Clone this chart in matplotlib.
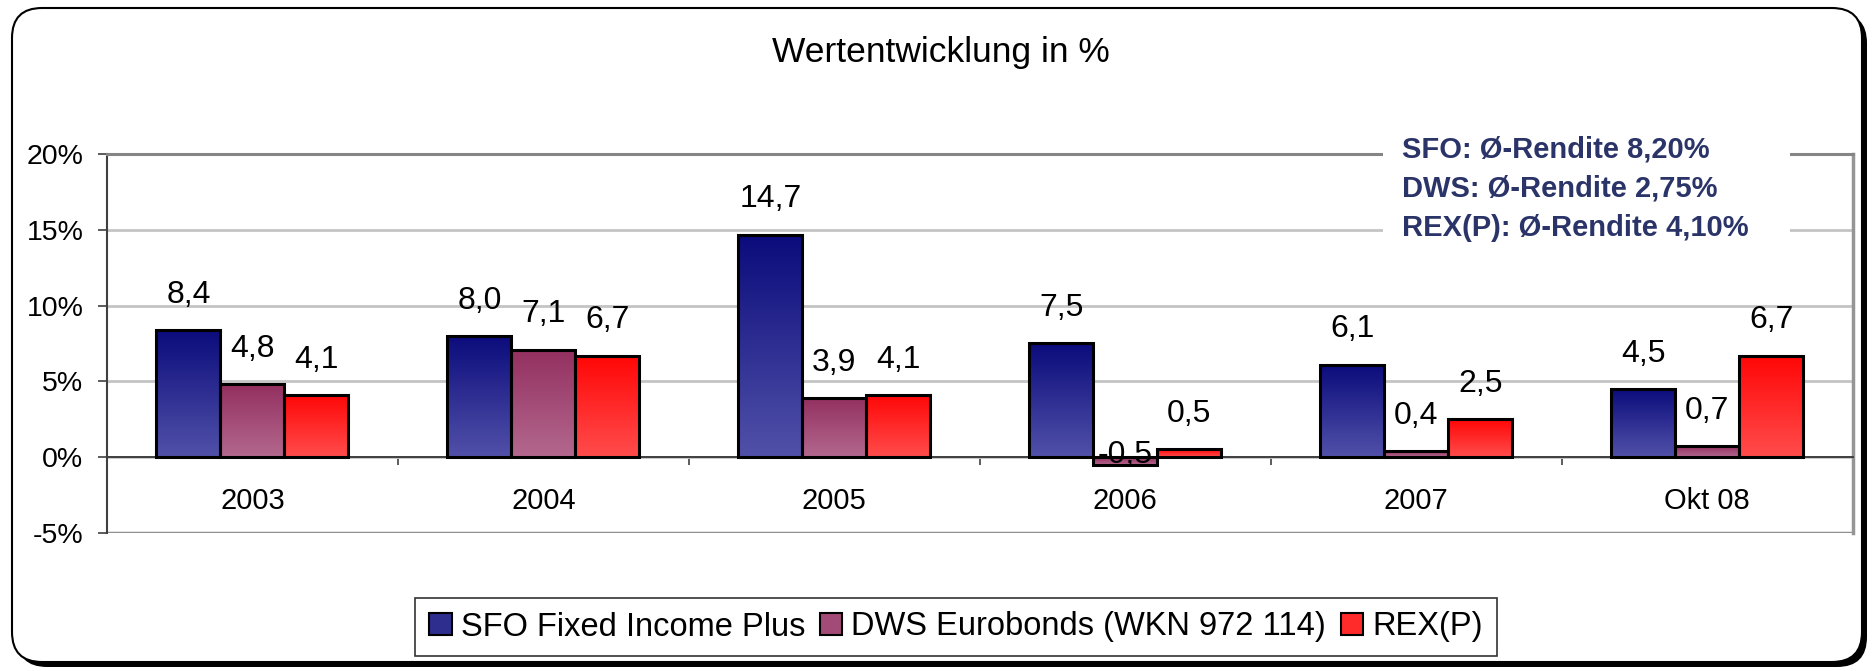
import numpy as np
import matplotlib

matplotlib.use("Agg")
import matplotlib.pyplot as plt
from matplotlib.colors import LinearSegmentedColormap
from matplotlib.patches import FancyBboxPatch, Patch, Rectangle
from matplotlib.ticker import FuncFormatter

plt.rcParams["font.family"] = ["Liberation Sans", "DejaVu Sans"]

# Daten (Wertentwicklung in %)
categories = ["2003", "2004", "2005", "2006", "2007", "Okt 08"]
sfo = [8.4, 8.0, 14.7, 7.5, 6.1, 4.5]
dws = [4.8, 7.1, 3.9, -0.5, 0.4, 0.7]
rex = [4.1, 6.7, 4.1, 0.5, 2.5, 6.7]
series_names = ["SFO Fixed Income Plus", "DWS Eurobonds (WKN 972 114)", "REX(P)"]
avg_notes = ["SFO: Ø-Rendite 8,20%", "DWS: Ø-Rendite 2,75%", "REX(P): Ø-Rendite 4,10%"]
y_ticks = [-5, 0, 5, 10, 15, 20]

# Verlauf oben -> unten, Mittelfarbe fuer Legende
gradients = [("#0b0b7c", "#5151a9"), ("#933060", "#b3688e"), ("#ff0606", "#ff4c4c")]
legend_colors = ["#2e2e8f", "#a24b78", "#ff2a2a"]
note_color = "#2b3468"

W, H, DPI = 1872, 671, 100
fig = plt.figure(figsize=(W / DPI, H / DPI), dpi=DPI)

# abgerundeter Rahmen mit Schatten
box = dict(boxstyle="round,pad=0,rounding_size=0.3", transform=fig.dpi_scale_trans)
fig.patches.append(FancyBboxPatch((0.17, 0.04), 18.5, 6.54, fc="black", ec="none", zorder=-3, **box))
fig.patches.append(FancyBboxPatch((0.12, 0.09), 18.5, 6.54, fc="white", ec="black", lw=1.5, zorder=-2, **box))

ax = fig.add_axes([107 / W, 1 - 532.7 / H, (1852.6 - 107) / W, (532.7 - 154.3) / H])
ax.set_facecolor("none")

x = np.arange(len(categories))
width = 0.22
grad = np.linspace(0, 1, 128).reshape(-1, 1)

for i, (vals, (c_top, c_bot)) in enumerate(zip([sfo, dws, rex], gradients)):
    bars = ax.bar(x + (i - 1) * width, vals, width, facecolor="none",
                  edgecolor="black", linewidth=2.2, zorder=4)
    cmap = LinearSegmentedColormap.from_list(f"g{i}", [c_top, c_bot])
    for b, v in zip(bars, vals):
        x0, y0, h = b.get_x(), b.get_y(), b.get_height()
        ax.imshow(grad, cmap=cmap, origin="upper", aspect="auto", zorder=3,
                  interpolation="bilinear",
                  extent=(x0, x0 + b.get_width(), min(y0, y0 + h), max(y0, y0 + h)))
        off = 19.7 if v >= 0 else 1
        ax.annotate(f"{v:.1f}".replace(".", ","), (x0 + b.get_width() / 2, v),
                    xytext=(0, off), textcoords="offset points", ha="center",
                    va="baseline", fontsize=23, zorder=5)

ax.set_xlim(-0.5, len(categories) - 0.5)
ax.set_ylim(-5, 20)

ax.set_yticks(y_ticks)
ax.yaxis.set_major_formatter(FuncFormatter(lambda v, _: f"{v:.0f}%"))
ax.yaxis.grid(True, color="#c4c4c4", linewidth=2)
ax.set_axisbelow(True)
ax.tick_params(axis="y", length=6.5, width=1.2, pad=10.5, labelsize=20.5, color="#404040")

ax.set_xticks(np.arange(-0.5, len(categories), 1))
ax.set_xticklabels([])
ax.set_xticks(x, minor=True)
ax.set_xticklabels(categories, minor=True)
ax.tick_params(axis="x", which="major", direction="out", length=6, width=1.2, color="#404040")
ax.tick_params(axis="x", which="minor", length=0, pad=21.6, labelsize=21)

ax.spines["bottom"].set_position(("data", 0))
ax.spines["bottom"].set_color("#404040")
ax.spines["bottom"].set_linewidth(1.4)
ax.spines["left"].set_color("#404040")
ax.spines["left"].set_linewidth(1.5)
ax.spines["top"].set_color("#858585")
ax.spines["top"].set_linewidth(2.2)
ax.spines["right"].set_color("#959595")
ax.spines["right"].set_linewidth(2.5)
ax.axhline(-5, color="#909090", linewidth=2.5, zorder=2)

fig.text(941 / W, 1 - 62 / H, "Wertentwicklung in %", ha="center", va="baseline", fontsize=25.5)

# Durchschnittsrenditen
fig.patches.append(Rectangle((1383 / W, 1 - 245 / H), (1790 - 1383) / W, (245 - 128) / H,
                             transform=fig.transFigure, fc="white", ec="none", zorder=1))
for k, note in enumerate(avg_notes):
    fig.text(1401.6 / W, 1 - (157.5 + 39 * k) / H, note, ha="left", va="baseline",
             fontsize=21, fontweight="bold", color=note_color, zorder=3)

handles = [Patch(facecolor=c, edgecolor="black", linewidth=1.5) for c in legend_colors]
leg = fig.legend(handles, series_names, loc="center", bbox_to_anchor=(956 / W, 1 - 627 / H),
                 ncol=3, fontsize=23.5, frameon=True, fancybox=False, edgecolor="black",
                 handlelength=0.69, handleheight=0.69, handletextpad=0.28,
                 columnspacing=0.45, borderpad=0.42, borderaxespad=0)
leg.get_frame().set_linewidth(1.2)

fig.savefig("out.png", dpi=DPI)
plt.close(fig)
